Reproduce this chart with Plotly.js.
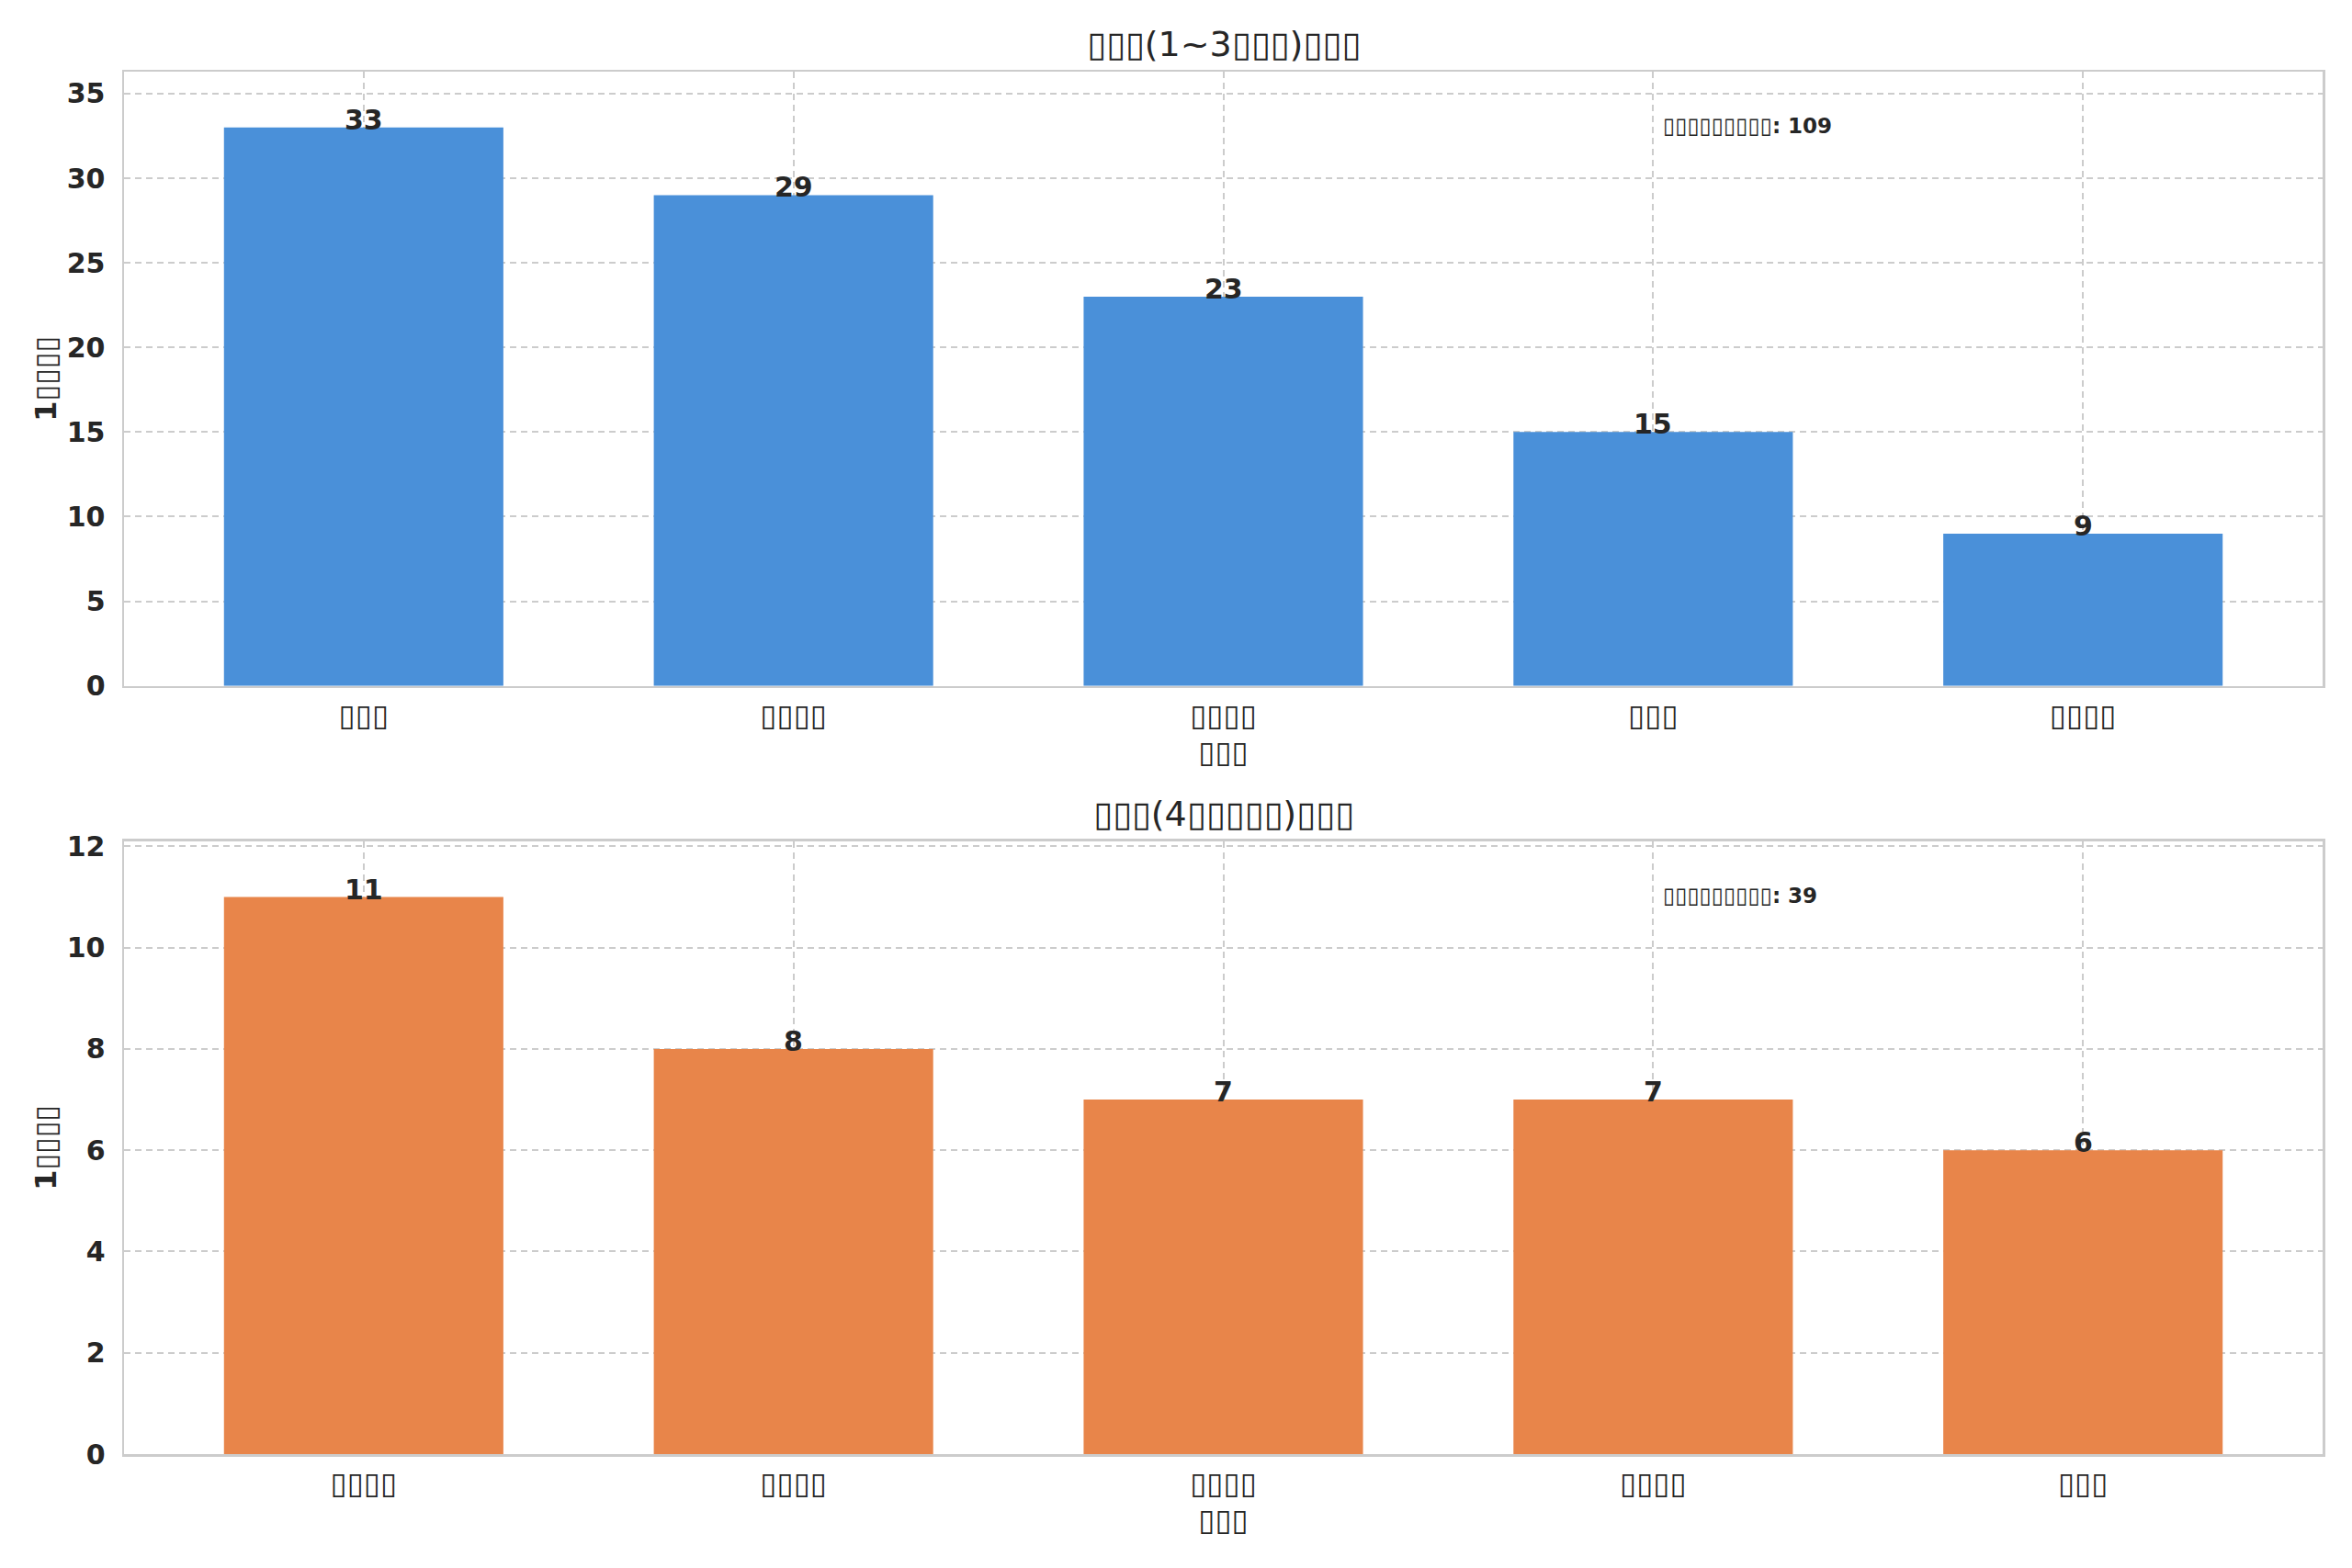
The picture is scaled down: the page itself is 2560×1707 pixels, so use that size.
<!DOCTYPE html>
<html>
<head>
<meta charset="utf-8">
<script src="https://cdn.plot.ly/plotly-3.0.1.min.js"></script>
<style>
  html, body { margin: 0; padding: 0; background: #fff; }
  #plot { width: 2560px; height: 1707px; }
</style>
</head>
<body>
<div id="plot"></div>
<script>
// the source figure lost its CJK glyphs, so every label is shown as empty boxes
var B = '\u25AF';
function boxes(n) { return B.repeat(n); }

var topCategories = [boxes(3), boxes(4), boxes(4), boxes(3), boxes(4)];
var topValues = [33, 29, 23, 15, 9];
var topTitle = boxes(3) + '(1~3' + boxes(3) + ')' + boxes(3);

var bottomCategories = [boxes(4), boxes(4), boxes(4), boxes(4), boxes(3)];
var bottomValues = [11, 8, 7, 7, 6];
var bottomTitle = boxes(3) + '(4' + boxes(5) + ')' + boxes(3);

var xLabel = boxes(3);
var yLabel = '1' + boxes(4);
var totalLabel = boxes(9);

var blue = '#4a90d9', orange = '#e8854a';
var ink = '#262626', grid = '#cccccc';
var FONT = 'DejaVu Sans';

function sum(a) { var s = 0; for (var i = 0; i < a.length; ++i) s += a[i]; return s; }
function idx(a) { return a.map(function (_, i) { return i; }); }

var traces = [
  { type: 'bar', x: idx(topValues), y: topValues, width: 0.65,
    marker: { color: blue }, xaxis: 'x', yaxis: 'y', hoverinfo: 'none' },
  { type: 'bar', x: idx(bottomValues), y: bottomValues, width: 0.65,
    marker: { color: orange }, xaxis: 'x2', yaxis: 'y2', hoverinfo: 'none' }
];

function xAxis(cats, anchor) {
  return {
    anchor: anchor, domain: [0, 1],
    range: [-0.5575, cats.length - 1 + 0.5575],
    tickvals: idx(cats), ticktext: cats,
    tickfont: { family: FONT, size: 33, color: ink },
    ticks: '', ticklabelstandoff: 1,
    showgrid: true, gridcolor: grid, gridwidth: 2, griddash: '7px,5px',
    showline: true, mirror: true, linecolor: grid, linewidth: 2.5,
    zeroline: false,
    title: { text: xLabel, font: { family: FONT, size: 33, color: ink }, standoff: 10 }
  };
}

function yAxis(vals, dtick, domain, anchor) {
  return {
    anchor: anchor, domain: domain,
    range: [0, Math.max.apply(null, vals) * 1.1],
    dtick: dtick, tick0: 0,
    tickfont: { family: FONT, size: 30, color: ink, weight: 'bold' },
    ticks: '', ticklabelstandoff: 12,
    showgrid: true, gridcolor: grid, gridwidth: 2, griddash: '7px,5px',
    showline: true, mirror: true, linecolor: grid, linewidth: 2.5,
    zeroline: false,
    title: { text: '<b>' + yLabel + '</b>', font: { family: FONT, size: 32, color: ink }, standoff: 2 }
  };
}

var annotations = [];
function addLabels(vals, xr, yr, title) {
  vals.forEach(function (v, i) {
    annotations.push({ x: i, y: v, xref: xr, yref: yr, text: '<b>' + v + '</b>',
      showarrow: false, yanchor: 'bottom', yshift: -11,
      font: { family: FONT, size: 30, color: ink } });
  });
  annotations.push({ x: 0.699, y: 0.912, xref: xr + ' domain', yref: yr + ' domain',
    xanchor: 'left', yanchor: 'middle', showarrow: false,
    text: '<span style="font-size:24px">' + totalLabel + '</span><b>: ' + sum(vals) + '</b>',
    font: { family: FONT, size: 23, color: ink } });
  annotations.push({ x: 0.5, y: 1.045, xref: xr + ' domain', yref: yr + ' domain',
    xanchor: 'center', yanchor: 'middle', showarrow: false, text: title,
    font: { family: FONT, size: 38, color: ink } });
}
addLabels(topValues, 'x', 'y', topTitle);
addLabels(bottomValues, 'x2', 'y2', bottomTitle);

var layout = {
  width: 2560, height: 1707,
  paper_bgcolor: '#ffffff', plot_bgcolor: '#ffffff',
  margin: { l: 135, r: 32, t: 78, b: 124 },
  showlegend: false,
  xaxis: xAxis(topCategories, 'y'),
  yaxis: yAxis(topValues, 5, [0.5557, 1], 'x'),
  xaxis2: xAxis(bottomCategories, 'y2'),
  yaxis2: yAxis(bottomValues, 2, [0, 0.4432], 'x2'),
  annotations: annotations
};

Plotly.newPlot(document.getElementById('plot'), traces, layout, { staticPlot: true });
</script>
</body>
</html>
